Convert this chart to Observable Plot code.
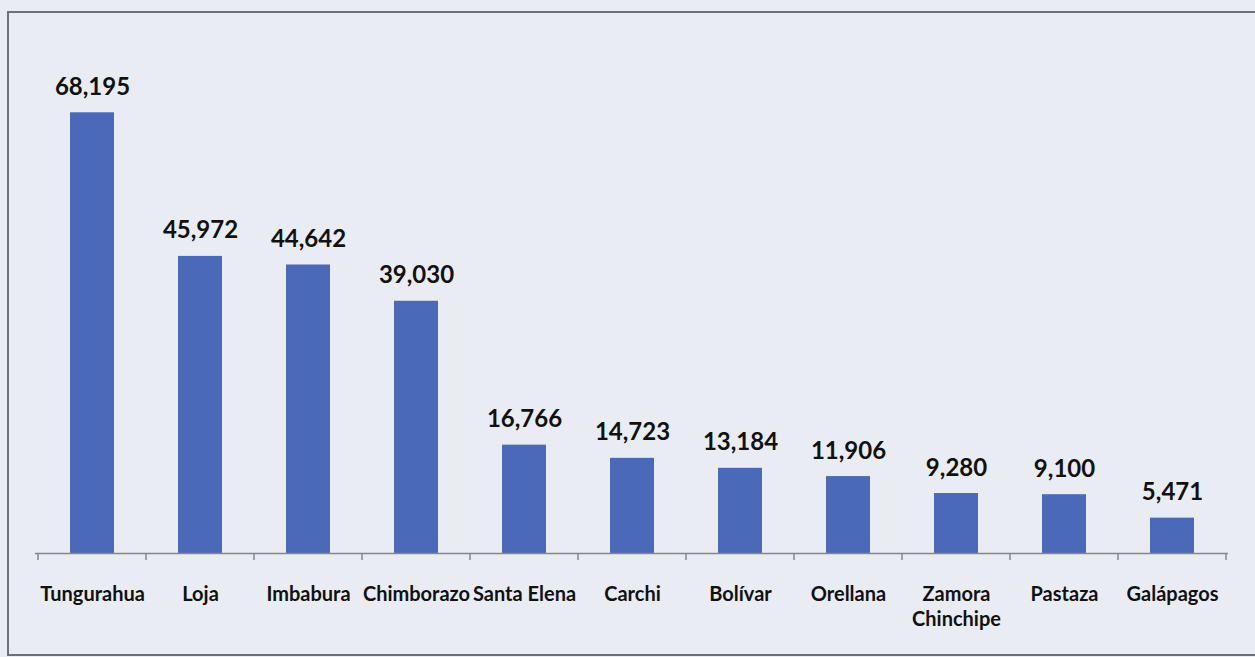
<!DOCTYPE html>
<html><head><meta charset="utf-8">
<script src="https://cdn.jsdelivr.net/npm/d3@7"></script>
<script src="https://cdn.jsdelivr.net/npm/@observablehq/plot@0.6"></script>
<style>
html,body{margin:0;padding:0;background:#e9edf3;}
#wrap{position:relative;width:1255px;height:657px;overflow:hidden;background:#e9edf3;}
#frame{position:absolute;left:7px;top:11px;width:1300px;height:645px;border:2px solid #6f7075;box-sizing:border-box;pointer-events:none}
#chart{position:absolute;left:0;top:0}
</style></head><body>
<div id="wrap"><div id="chart"></div><div id="frame"></div></div>
<script>
const provinces = ["Tungurahua","Loja","Imbabura","Chimborazo","Santa Elena","Carchi","Bolívar","Orellana","Zamora Chinchipe","Pastaza","Galápagos"];
const values = [68195,45972,44642,39030,16766,14723,13184,11906,9280,9100,5471];
const yDomain = [0, 80000];

const data = provinces.map((p, i) => ({province: p, value: values[i]}));
const fmt = d3.format(",");

const boundaryTicks = (index, scales, channels, dims) => {
  const x = scales.x, y = scales.y;
  const step = x.step ? x.step() : (dims.width - dims.marginLeft - dims.marginRight) / provinces.length;
  const off = (step - x.bandwidth()) / 2;
  const xs = provinces.map(p => x(p) - off);
  xs.push(x(provinces[provinces.length - 1]) + x.bandwidth() + off);
  const y0 = y(0);
  const g = d3.create("svg:g").attr("stroke", "#85868b").attr("stroke-width", 1.5);
  xs.forEach(v => g.append("line").attr("x1", v).attr("x2", v).attr("y1", y0).attr("y2", y0 + 7));
  return g.node();
};

const chart = Plot.plot({
  width: 1255, height: 657,
  marginLeft: 35, marginRight: 27, marginTop: 36, marginBottom: 104,
  style: {background: "transparent", fontFamily: "Lato, 'Open Sans', sans-serif", color: "#111"},
  x: {domain: provinces, paddingInner: 0.595, paddingOuter: 0.2975, align: 0.5},
  y: {domain: yDomain, axis: null},
  marks: [
    Plot.barY(data, {x: "province", y: "value", fill: "#4a69b8"}),
    Plot.text(data, {x: "province", y: "value", text: d => fmt(d.value), dy: -18, lineAnchor: "bottom", fontSize: 24, fontWeight: "bold", fill: "#111"}),
    Plot.ruleY([0], {stroke: "#85868b", strokeWidth: 1.5}),
    boundaryTicks,
    Plot.axisX({tickSize: 0, tickPadding: 30, fontSize: 20, lineHeight: 1.25, fontWeight: "bold", label: null,
      tickFormat: d => d === "Zamora Chinchipe" ? "Zamora\nChinchipe" : d})
  ]
});
document.getElementById("chart").appendChild(chart);
</script>
</body></html>
